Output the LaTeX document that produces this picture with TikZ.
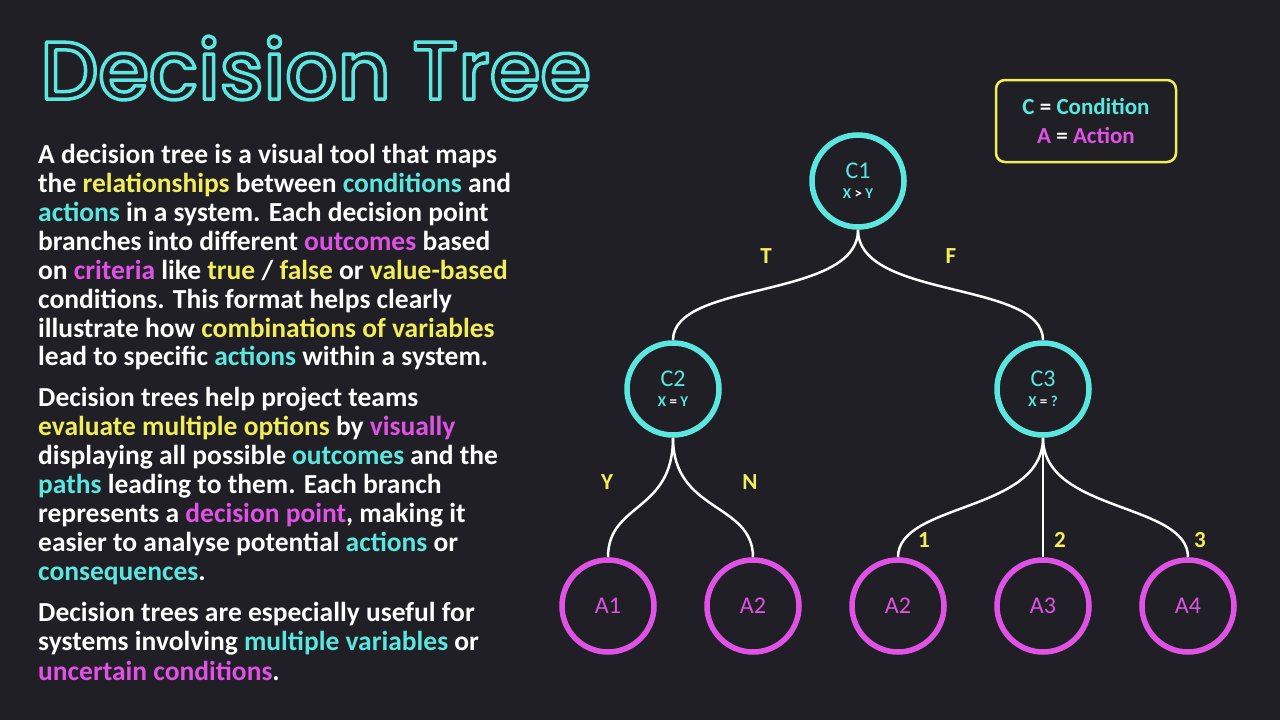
\documentclass[tikz,border=0pt]{standalone}
\usepackage{fontspec}
\setmainfont{Carlito}
\newfontfamily\titlefont{Poppins Medium}
\definecolor{bg}{HTML}{201F26}
\definecolor{cy}{HTML}{5CE6E0}
\definecolor{ye}{HTML}{F2EE5A}
\definecolor{mg}{HTML}{E052E6}
\newcommand{\Y}[1]{\textcolor{ye}{#1}}
\newcommand{\Cy}[1]{\textcolor{cy}{#1}}
\newcommand{\M}[1]{\textcolor{mg}{#1}}
\begin{document}
\begin{tikzpicture}[x=1pt,y=-1pt,
  cnode/.style={circle,draw=cy,line width=5.5pt,minimum size=92pt,inner sep=0pt,text=cy,align=center,font=\fontsize{24}{24}\selectfont},
  anode/.style={circle,draw=mg,line width=5.5pt,minimum size=92pt,inner sep=0pt,text=mg,font=\fontsize{24}{24}\selectfont},
  lbl/.style={text=ye,font=\bfseries\fontsize{23}{23}\selectfont},
  line/.style={anchor=base west,text=white,inner sep=0pt,font=\bfseries\fontsize{27.5}{27.5}\selectfont},
  edge/.style={draw=white,line width=2.5pt}]
\fill[bg] (0,0) rectangle (1280,720);
\useasboundingbox (0,0) rectangle (1280,720);
\node[anchor=west,text=cy,inner sep=0pt,font=\titlefont\fontsize{82}{82}\selectfont] (title) at (40,68)
 {\special{pdf:literal direct 1 Tr 3.5 w 1 j}Decision Tree\special{pdf:literal direct 0 Tr}};
\node[line] (l1) at (38,163) {A decision tree is a visual tool that maps};
\node[line] (l2) at (38,192) {the \Y{relationships} between \Cy{conditions} and};
\node[line] (l3) at (38,221) {\Cy{actions} in a system. Each decision point};
\node[line] (l4) at (38,250) {branches into different \M{outcomes} based};
\node[line] (l5) at (38,279) {on \M{criteria} like \Y{true} / \Y{false} or \Y{value-based}};
\node[line] (l6) at (38,308) {conditions. This format helps clearly};
\node[line] (l7) at (38,337) {illustrate how \Y{combinations of variables}};
\node[line] (l8) at (38,365) {lead to specific \Cy{actions} within a system.};
\node[line] (m1) at (38,406) {Decision trees help project teams};
\node[line] (m2) at (38,435) {\Y{evaluate multiple options} by \M{visually}};
\node[line] (m3) at (38,464) {displaying all possible \Cy{outcomes} and the};
\node[line] (m4) at (38,493) {\Cy{paths} leading to them. Each branch};
\node[line] (m5) at (38,522) {represents a \M{decision point}, making it};
\node[line] (m6) at (38,551) {easier to analyse potential \Cy{actions} or};
\node[line] (m7) at (38,580) {\Cy{consequences}.};
\node[line] (n1) at (38,621) {Decision trees are especially useful for};
\node[line] (n2) at (38,650) {systems involving \Cy{multiple variables} or};
\node[line] (n3) at (38,680) {\M{uncertain conditions}.};
% legend
\node[draw=ye,line width=2.5pt,rounded corners=9pt,minimum width=180pt,minimum height=82pt,align=center,font=\bfseries\fontsize{23}{29}\selectfont] (leg) at (1086,121)
 {\Cy{C} \textcolor{white}{=} \Cy{Condition}\\ \M{A} \textcolor{white}{=} \M{Action}};
% tree
\node[cnode] (c1) at (858,181) {C1\\[-4pt]{\bfseries\fontsize{15}{15}\selectfont X \textcolor{white}{>} Y}};
\node[cnode] (c2) at (673,389) {C2\\[-4pt]{\bfseries\fontsize{15}{15}\selectfont X \textcolor{white}{=} Y}};
\node[cnode] (c3) at (1043,389) {C3\\[-4pt]{\bfseries\fontsize{15}{15}\selectfont X \textcolor{white}{=} ?}};
\node[anode] (a1) at (608,606) {A1};
\node[anode] (a2) at (753,606) {A2};
\node[anode] (a3) at (898,606) {A2};
\node[anode] (a4) at (1043,606) {A3};
\node[anode] (a5) at (1188,606) {A4};
\draw[edge] (c1.south) .. controls +(0,70) and +(0,-60) .. (c2.north);
\draw[edge] (c1.south) .. controls +(0,70) and +(0,-60) .. (c3.north);
\draw[edge] (c2.south) .. controls +(0,75) and +(0,-55) .. (a1.north);
\draw[edge] (c2.south) .. controls +(0,75) and +(0,-55) .. (a2.north);
\draw[edge] (c3.south) .. controls +(0,75) and +(0,-55) .. (a3.north);
\draw[edge] (c3.south) -- (a4.north);
\draw[edge] (c3.south) .. controls +(0,75) and +(0,-55) .. (a5.north);
\node[lbl] (lt) at (766,256) {T};
\node[lbl] (lf) at (951,256) {F};
\node[lbl] (ly) at (607,482) {Y};
\node[lbl] (ln) at (750,482) {N};
\node[lbl] (l1b) at (924,540) {1};
\node[lbl] (l2b) at (1060,540) {2};
\node[lbl] (l3b) at (1200,540) {3};
\end{tikzpicture}
\end{document}
